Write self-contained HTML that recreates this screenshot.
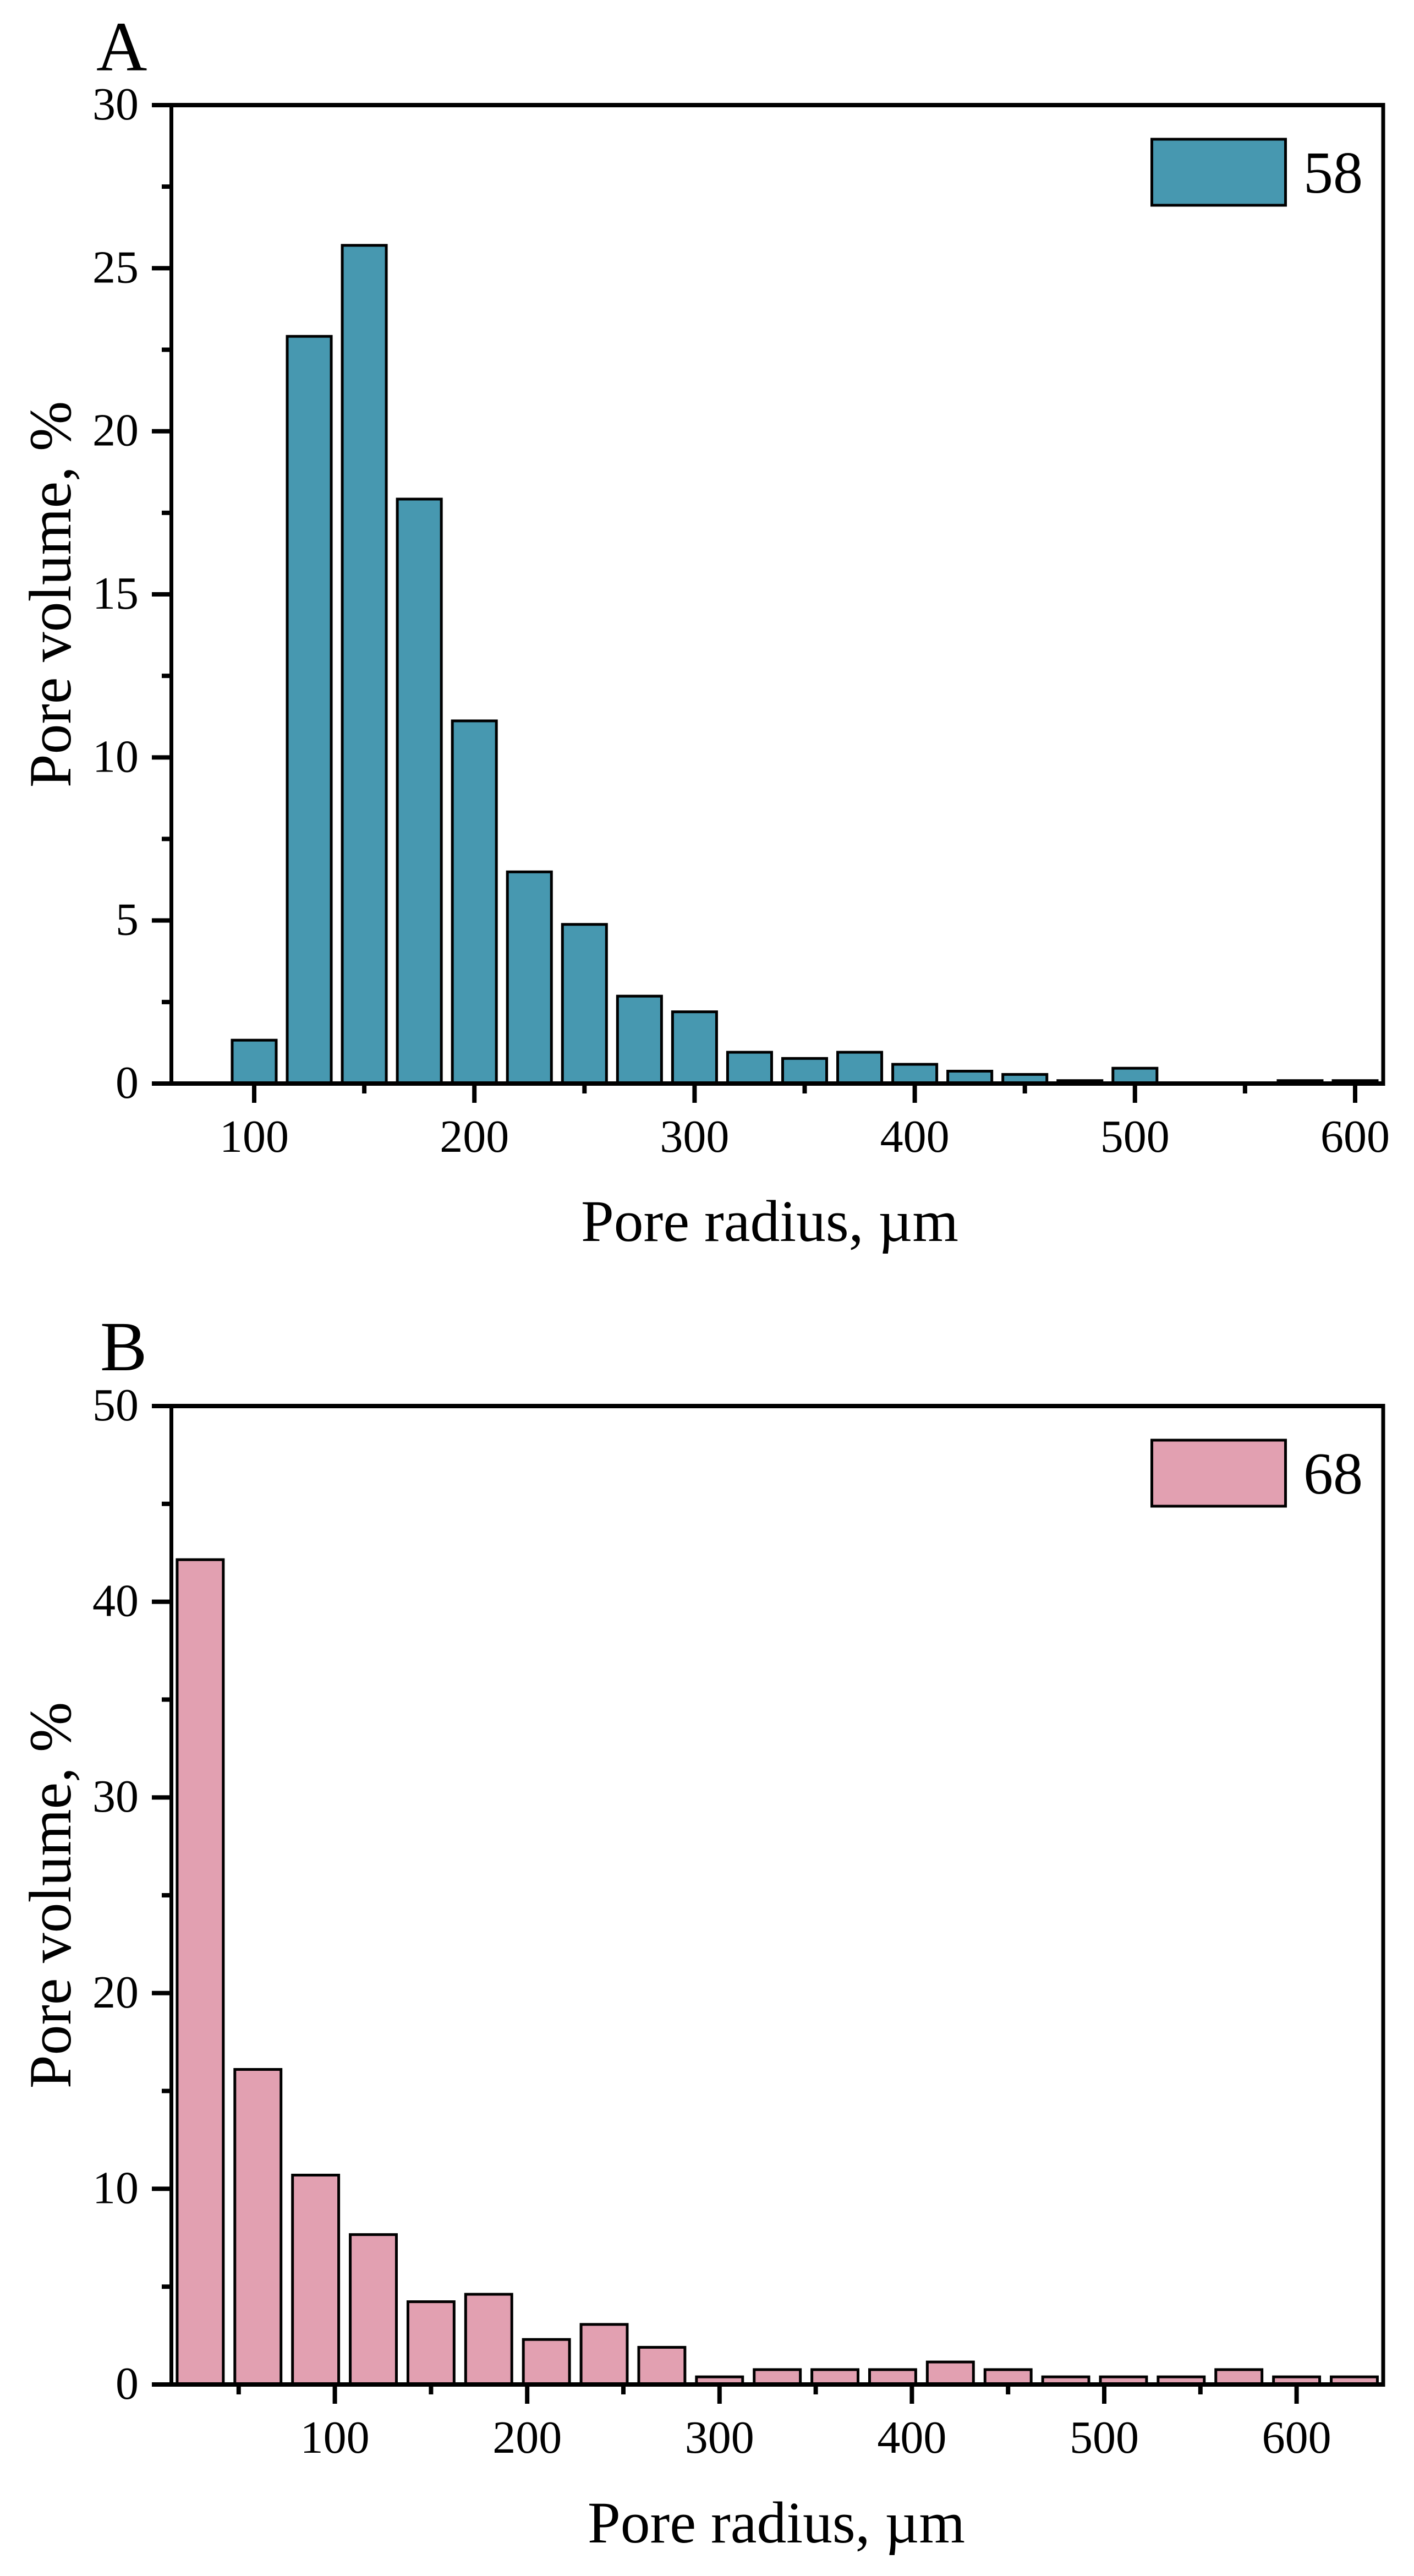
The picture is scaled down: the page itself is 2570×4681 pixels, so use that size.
<!DOCTYPE html>
<html lang="en">
<head>
<meta charset="utf-8">
<title>Pore volume distribution</title>
<style>
html,body{margin:0;padding:0;background:#fff;width:2570px;height:4681px;overflow:hidden}
svg{display:block;position:absolute;left:0;top:0}
text{font-family:"Liberation Serif","Times New Roman",serif;fill:#000}
</style>
</head>
<body>
<svg id="chart" width="2570" height="4681" viewBox="0 0 2570 4681" xmlns="http://www.w3.org/2000/svg">
  <rect x="0" y="0" width="2570" height="4681" fill="#ffffff"/>

  <g id="panel-a">
    <text x="175" y="128" font-size="128">A</text>
    <text transform="translate(128 1080) rotate(-90)" text-anchor="middle" font-size="109.5">Pore volume, %</text>
    <text x="1399" y="2255" text-anchor="middle" font-size="107.5">Pore radius, µm</text>
    <rect x="2093.5" y="253" width="243" height="120" fill="#4798B0" stroke="#000" stroke-width="5"/>
    <text x="2369" y="350" font-size="108">58</text>
  </g>

  <g id="panel-b">
    <text x="182" y="2490" font-size="128">B</text>
    <text transform="translate(128 3444) rotate(-90)" text-anchor="middle" font-size="109.5">Pore volume, %</text>
    <text x="1411" y="4620" text-anchor="middle" font-size="107.5">Pore radius, µm</text>
    <rect x="2093.5" y="2617" width="243" height="120" fill="#E2A0B1" stroke="#000" stroke-width="5"/>
    <text x="2369" y="2714" font-size="108">68</text>
  </g>
</svg>
<script>
const categoriesA = [100,125,150,175,200,225,250,275,300,325,350,375,400,425,450,475,500,525,550,575,600];
const valuesA = [1.33,22.91,25.7,17.92,11.12,6.49,4.88,2.68,2.2,0.96,0.77,0.96,0.59,0.38,0.28,0.09,0.47,0,0,0.09,0.09];
const xMajorTicksA = [100,200,300,400,500,600];
const xMinorTicksA = [150,250,350,450,550];
const yMajorTicksA = [0,5,10,15,20,25,30];
const yMinorTicksA = [2.5,7.5,12.5,17.5,22.5,27.5];

const categoriesB = [30,60,90,120,150,180,210,240,270,300,330,360,390,420,450,480,510,540,570,600,630];
const valuesB = [42.15,16.1,10.7,7.66,4.23,4.61,2.3,3.07,1.9,0.39,0.76,0.76,0.76,1.15,0.76,0.39,0.39,0.39,0.76,0.39,0.39];
const xMajorTicksB = [100,200,300,400,500,600];
const xMinorTicksB = [50,150,250,350,450,550];
const yMajorTicksB = [0,10,20,30,40,50];
const yMinorTicksB = [5,15,25,35,45];

const SVG_NS = 'http://www.w3.org/2000/svg';

function shape(parent, tag, attrs) {
  const node = document.createElementNS(SVG_NS, tag);
  Object.keys(attrs).forEach(function (k) { node.setAttribute(k, attrs[k]); });
  parent.appendChild(node);
  return node;
}

function drawPanel(opts) {
  const root = document.getElementById(opts.rootId);
  const left = 311.5, right = 2514;
  const xScale = function (v) { return opts.xAt100 + (v - 100) * opts.xPerUnit; };
  const yScale = function (v) { return opts.yBottom - (v / opts.yMax) * (opts.yBottom - opts.yTop); };

  const barWidth = (opts.categories[1] - opts.categories[0]) * 0.8 * opts.xPerUnit;
  opts.categories.forEach(function (cat, i) {
    const top = yScale(opts.values[i]);
    const bar = shape(root, 'rect', {
      x: xScale(cat) - barWidth / 2,
      y: top,
      width: barWidth,
      height: Math.max(opts.yBottom - top, 0),
      fill: opts.color,
      stroke: '#000',
      'stroke-width': 5
    });
    
    
  });

  const frame = shape(root, 'path', {
    d: 'M ' + left + ' ' + yScale(opts.yMax) + ' V ' + opts.yBottom,
    stroke: '#000',
    'stroke-width': 7,
    fill: 'none'
  });
  
  

  const rightLine = shape(root, 'path', {
    d: 'M ' + right + ' ' + (opts.yTop - 4) + ' V ' + (opts.yBottom + 4),
    stroke: '#000',
    'stroke-width': 7,
    fill: 'none'
  });
  
  

  const topLine = shape(root, 'path', {
    d: 'M ' + left + ' ' + opts.yTop + ' H ' + (right + 3.5),
    stroke: '#000',
    'stroke-width': 8,
    fill: 'none'
  });
  
  

  const bottomLine = shape(root, 'path', {
    d: 'M ' + left + ' ' + opts.yBottom + ' H ' + (right + 3.5),
    stroke: '#000',
    'stroke-width': 8,
    fill: 'none'
  });
  
  

  opts.yMajor.forEach(function (v) {
    const y = yScale(v);
    const tick = shape(root, 'path', { d: 'M 276 ' + y + ' H ' + left, stroke: '#000', 'stroke-width': 8 });
    
    
    const label = shape(root, 'text', { x: 252, y: y + 26, 'text-anchor': 'end', 'font-size': 84 });
    label.textContent = String(v);
    
    
  });

  opts.yMinor.forEach(function (v) {
    const y = yScale(v);
    const tick = shape(root, 'path', { d: 'M 294 ' + y + ' H ' + left, stroke: '#000', 'stroke-width': 8 });
    
    
  });

  opts.xMajor.forEach(function (v) {
    const x = xScale(v);
    const tick = shape(root, 'path', { d: 'M ' + x + ' ' + opts.yBottom + ' V ' + (opts.yBottom + 35), stroke: '#000', 'stroke-width': 8 });
    
    
    const label = shape(root, 'text', { x: x, y: opts.yBottom + 124, 'text-anchor': 'middle', 'font-size': 84 });
    label.textContent = String(v);
    
    
  });

  opts.xMinor.forEach(function (v) {
    const x = xScale(v);
    const tick = shape(root, 'path', { d: 'M ' + x + ' ' + opts.yBottom + ' V ' + (opts.yBottom + 18), stroke: '#000', 'stroke-width': 8 });
    
    
  });
}

drawPanel({
  rootId: 'panel-a', categories: categoriesA, values: valuesA, color: '#4798B0',
  xMajor: xMajorTicksA, xMinor: xMinorTicksA, yMajor: yMajorTicksA, yMinor: yMinorTicksA,
  xAt100: 462, xPerUnit: 4.002, yTop: 191, yBottom: 1969, yMax: 30
});

drawPanel({
  rootId: 'panel-b', categories: categoriesB, values: valuesB, color: '#E2A0B1',
  xMajor: xMajorTicksB, xMinor: xMinorTicksB, yMajor: yMajorTicksB, yMinor: yMinorTicksB,
  xAt100: 608.6, xPerUnit: 3.496, yTop: 2555, yBottom: 4333, yMax: 50
});
</script>
</body>
</html>
